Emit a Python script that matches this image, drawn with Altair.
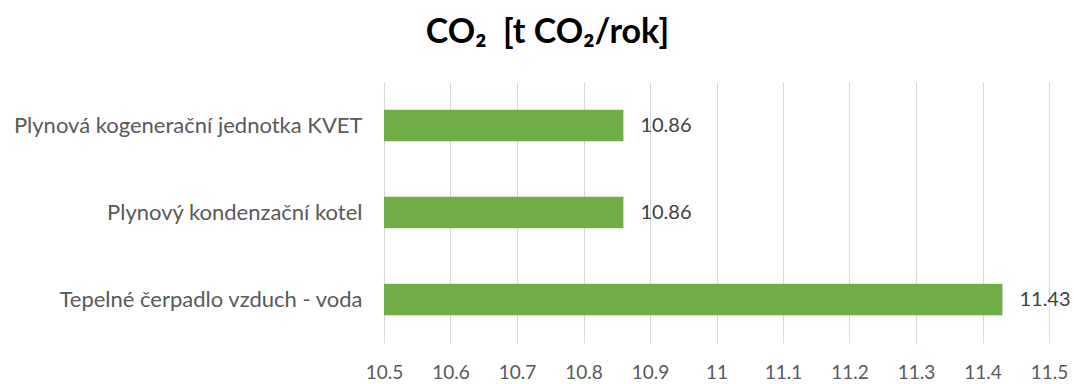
import altair as alt
import pandas as pd

# Annual CO2 emissions per heat source
sources = [
    "Plynová kogenerační jednotka KVET",
    "Plynový kondenzační kotel",
    "Tepelné čerpadlo vzduch - voda",
]
emissions = [10.86, 10.86, 11.43]
axis_min, axis_max = 10.5, 11.5
tick_values = [10.5, 10.6, 10.7, 10.8, 10.9, 11.0, 11.1, 11.2, 11.3, 11.4, 11.5]

df = pd.DataFrame({"source": sources, "value": emissions, "base": [axis_min] * len(sources)})

FONT = "Lato"
GREEN = "#70AD47"
TEXT = "#595959"

x_scale = alt.Scale(domain=[axis_min, axis_max], zero=False, nice=False)
y_enc = alt.Y(
    "source:N",
    sort=sources,
    title=None,
    scale=alt.Scale(paddingInner=0.64, paddingOuter=0.32),
    axis=alt.Axis(
        domain=False,
        ticks=False,
        labelFont=FONT,
        labelFontSize=22,
        labelColor=TEXT,
        labelPadding=22,
        labelLimit=400,
    ),
)

bars = alt.Chart(df).mark_bar(color=GREEN).encode(
    x=alt.X(
        "value:Q",
        scale=x_scale,
        title=None,
        axis=alt.Axis(
            values=tick_values,
            format="~g",
            domain=False,
            ticks=False,
            grid=True,
            gridColor="#D9D9D9",
            gridWidth=1,
            labelFont=FONT,
            labelFontSize=19,
            labelColor=TEXT,
            labelPadding=20,
            labelFlush=False,
            labelOverlap=False,
        ),
    ),
    x2="base:Q",
    y=y_enc,
)

labels = alt.Chart(df).mark_text(
    align="left", baseline="middle", dx=17, font=FONT, fontSize=20, color="#404040"
).encode(
    x=alt.X("value:Q", scale=x_scale),
    y=alt.Y("source:N", sort=sources),
    text=alt.Text("value:Q", format=".2f"),
)

chart = (
    alt.layer(bars, labels)
    .properties(
        width=665,
        height=261,
        title=alt.Title(
            "CO₂\u00a0 [t CO₂/rok]",
            font=FONT,
            fontSize=34,
            fontWeight="bold",
            color="#000000",
            anchor="middle",
            offset=32,
            dx=-169,
        ),
        autosize=alt.AutoSizeParams(type="none"),
        padding={"left": 384, "top": 82, "right": 25, "bottom": 41},
    )
    .configure_view(stroke=None)
)

chart.save("out.html", embed_options={"renderer": "svg", "actions": False})
